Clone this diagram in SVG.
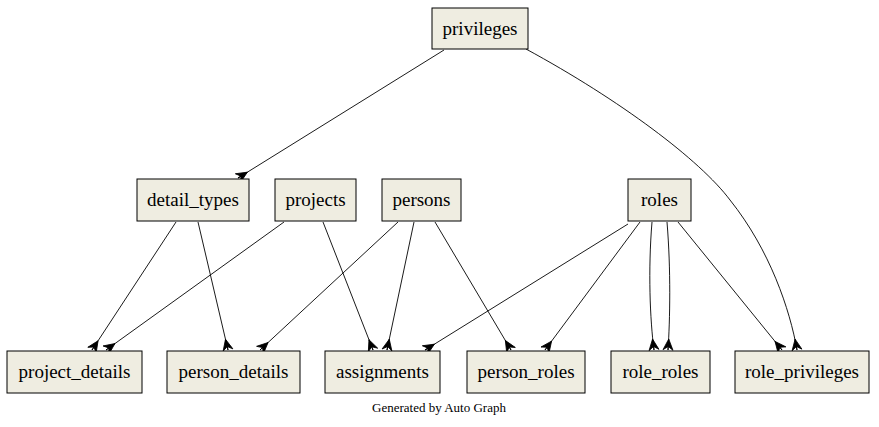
<svg xmlns="http://www.w3.org/2000/svg" width="879" height="427" viewBox="0 0 879 427">
<style>
.n rect{fill:#efede1;stroke:#000;stroke-width:1}
.n text{font-size:19px;fill:#000;text-anchor:middle}
.e path{fill:none;stroke:#000;stroke-width:0.9;marker-end:url(#crow)}
.f{font-size:13px;fill:#000;text-anchor:middle}
</style>
<defs>
<marker id="crow" markerUnits="userSpaceOnUse" orient="auto" markerWidth="14" markerHeight="14" refX="11" refY="7" viewBox="0 0 14 14" overflow="visible">
<path d="M0,7 L11,2 L7.5,7 L11,12 Z" fill="#000" stroke="#000" stroke-width="0.8"/>
<path d="M0,7 L11,7" stroke="#000" stroke-width="0.9"/>
</marker>
</defs>
<rect width="879" height="427" fill="#fff"/>
<g id="connectors" class="e">
<path d="M444,50 L238,178"/>
<path d="M526,49 C620,100 700,160 730,200 C770,250 790,310 797,350"/>
<path d="M176,222 L92,350"/>
<path d="M198,222 L228,350"/>
<path d="M284,222 L106,350"/>
<path d="M323,222 L373,350"/>
<path d="M398,222 L260,350"/>
<path d="M414,222 L387,350"/>
<path d="M435,222 L511,350"/>
<path d="M628,224 L425,350"/>
<path d="M640,222 L545,350"/>
<path d="M652,222 C648,270 650,320 654,350"/>
<path d="M667,222 C671,270 670,320 668,350"/>
<path d="M678,222 L782,350"/>
</g>
<g font-family="'Liberation Serif', 'DejaVu Serif', serif">
<g id="privileges" class="n"><rect x="432" y="8" width="96" height="41"/><text x="480" y="35">privileges</text></g>
<g id="detail_types" class="n"><rect x="137" y="179" width="112" height="42"/><text x="193" y="206">detail_types</text></g>
<g id="projects" class="n"><rect x="275" y="179" width="81" height="42"/><text x="315.5" y="206">projects</text></g>
<g id="persons" class="n"><rect x="382" y="179" width="79" height="42"/><text x="421.5" y="206">persons</text></g>
<g id="roles" class="n"><rect x="628" y="179" width="63" height="42"/><text x="659.5" y="206">roles</text></g>
<g id="project_details" class="n"><rect x="7" y="351" width="135" height="42"/><text x="74.5" y="378">project_details</text></g>
<g id="person_details" class="n"><rect x="167" y="351" width="133" height="42"/><text x="233.5" y="378">person_details</text></g>
<g id="assignments" class="n"><rect x="325" y="351" width="115" height="42"/><text x="382.5" y="378">assignments</text></g>
<g id="person_roles" class="n"><rect x="467" y="351" width="118" height="42"/><text x="526" y="378">person_roles</text></g>
<g id="role_roles" class="n"><rect x="611" y="351" width="99" height="42"/><text x="660.5" y="378">role_roles</text></g>
<g id="role_privileges" class="n"><rect x="735" y="351" width="134" height="42"/><text x="802" y="378">role_privileges</text></g>
<text class="f" x="439" y="412">Generated by Auto Graph</text>
</g>
</svg>
